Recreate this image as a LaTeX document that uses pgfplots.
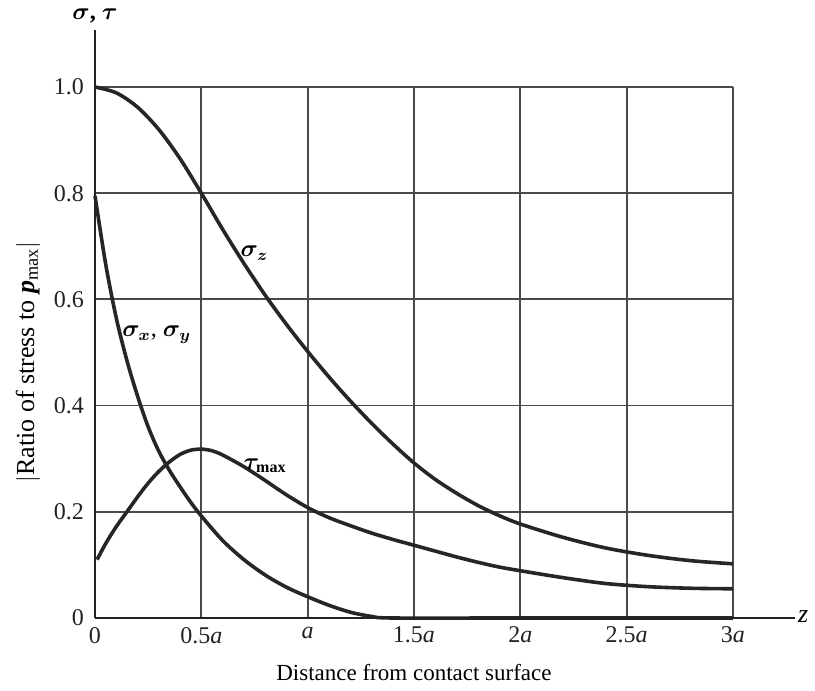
\documentclass[border=0pt]{standalone}
\usepackage{pgfplots}
\pgfplotsset{compat=1.18}
\usepackage{fontspec}
\setmainfont{Liberation Serif}
\usepackage{bm}
\definecolor{curvecol}{HTML}{262626}
\definecolor{gridcol}{HTML}{4A4A4A}
\definecolor{axiscol}{HTML}{222222}
\begin{document}
\begin{tikzpicture}
\useasboundingbox (-47.5pt,-36.5pt) rectangle (360pt,309pt);
\begin{axis}[
  scale only axis, width=319pt, height=265.5pt,
  xmin=0, xmax=3, ymin=0, ymax=1,
  axis line style={draw=none},
  xtick={0,0.5,1,1.5,2,2.5,3},
  ytick={0,0.2,0.4,0.6,0.8,1},
  xticklabels={0,0.5\textit{a},\textit{a},1.5\textit{a},2\textit{a},2.5\textit{a},3\textit{a}},
  yticklabels={0,0.2,0.4,0.6,0.8,1.0},
  major tick length=0pt,
  grid=major,
  grid style={line width=0.9pt, color=gridcol},
  tick label style={font=\fontsize{12}{14}\selectfont, text=axiscol},
  xticklabel style={yshift=-1pt},
  yticklabel style={xshift=-2pt},
  clip=false,
]
\addplot[curvecol, line width=1.8pt, smooth] coordinates {
(0,1.0) (0.1,0.989) (0.2,0.962) (0.3,0.920) (0.4,0.865) (0.5,0.800) (0.6,0.732)
(0.7,0.668) (0.8,0.608) (0.9,0.553) (1.0,0.502) (1.1,0.454) (1.2,0.409)
(1.3,0.367) (1.4,0.328) (1.5,0.292) (1.6,0.261) (1.7,0.235) (1.8,0.212)
(1.9,0.193) (2.0,0.177) (2.2,0.152) (2.4,0.132) (2.6,0.118) (2.8,0.108) (3.0,0.102)};
\addplot[curvecol, line width=1.8pt, smooth] coordinates {
(0,0.795) (0.05,0.667) (0.1,0.565) (0.15,0.485) (0.2,0.418) (0.25,0.360) (0.3,0.314)
(0.35,0.278) (0.4,0.247) (0.45,0.218) (0.5,0.192) (0.6,0.146) (0.7,0.110) (0.8,0.081)
(0.9,0.058) (1.0,0.040) (1.1,0.024) (1.2,0.011) (1.3,0.003) (1.4,0) (2,0) (3.0,0)};
\addplot[curvecol, line width=1.8pt, smooth] coordinates {
(0.01,0.110) (0.05,0.140) (0.1,0.172) (0.15,0.200) (0.2,0.228) (0.25,0.254)
(0.3,0.276) (0.35,0.294) (0.4,0.308) (0.45,0.316) (0.5,0.318) (0.55,0.315)
(0.6,0.307) (0.7,0.285) (0.8,0.259) (0.9,0.232) (1.0,0.208) (1.1,0.189)
(1.2,0.174) (1.3,0.160) (1.4,0.148) (1.5,0.137) (1.6,0.126) (1.7,0.115)
(1.8,0.105) (1.9,0.096) (2.0,0.089) (2.2,0.076) (2.4,0.065) (2.6,0.059)
(2.8,0.056) (3.0,0.055)};
\draw[axiscol, line width=1.3pt] (axis cs:0,0) -- (axis cs:3.29,0);
\draw[axiscol, line width=1.3pt] (axis cs:0,0) -- (axis cs:0,1.107);
\node[font=\fontsize{12}{14}\selectfont] at (axis cs:0,1.134) {$\bm{\sigma}$\textbf{,} $\bm{\tau}$};
\node[font=\fontsize{13}{15}\selectfont] at (axis cs:3.33,0.003) {\textit{z}};
\node[font=\fontsize{12}{14}\selectfont] at (axis cs:0.75,0.687) {$\bm{\sigma_z}$};
\node[font=\fontsize{12}{14}\selectfont] at (axis cs:0.29,0.533) {$\bm{\sigma_x}$, $\bm{\sigma_y}$};
\node[font=\fontsize{12}{14}\selectfont] at (axis cs:0.80,0.287) {$\bm{\tau_{\mathrm{max}}}$};
\node[font=\fontsize{11.5}{13}\selectfont] at (axis cs:1.5,-0.102) {Distance from contact surface};
\node[font=\fontsize{13}{15}\selectfont, rotate=90] at (axis cs:-0.315,0.482) {$|$Ratio of stress to \textbf{\textit{p}}\textsubscript{max}$|$};
\end{axis}
\end{tikzpicture}
\end{document}
